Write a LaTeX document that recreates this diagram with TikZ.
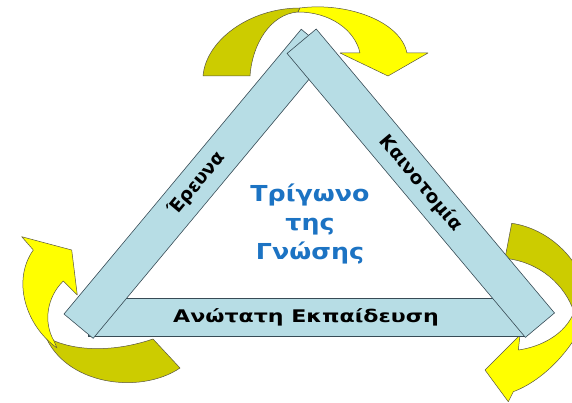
\documentclass[tikz,border=0pt]{standalone}
\usepackage{fontspec}
\setmainfont{DejaVu Sans}
\usepackage{graphicx}

\definecolor{barfill}{RGB}{183,221,229}
\definecolor{barline}{RGB}{55,75,85}
\definecolor{arrowlight}{RGB}{255,255,0}
\definecolor{arrowdark}{RGB}{204,204,0}
\definecolor{titleblue}{RGB}{28,115,195}

\begin{document}
\begin{tikzpicture}[x=1pt,y=-1pt,
  bar/.style={draw=barline,line width=0.6pt,fill=barfill,inner sep=0pt,
    minimum height=38pt,font=\bfseries\fontsize{17.4}{20}\selectfont},
  lightpart/.style={draw=black!75!yellow,line width=0.5pt,fill=arrowlight,line join=round},
  darkpart/.style={draw=black!75!yellow,line width=0.5pt,fill=arrowdark,line join=round}]
\useasboundingbox (0,0) rectangle (572,403);
\clip (0,0) rectangle (572,403);

% top arrow
\draw[darkpart] (203,76) .. controls (206,40) and (250,8) .. (300,8)
  -- (298,12) .. controls (270,14) and (252,45) .. (250,76) -- cycle;
\draw[lightpart] (300,8) .. controls (345,2) and (400,20) .. (407,53)
  -- (428,53) -- (388,76) -- (340,53) -- (360,53)
  .. controls (355,30) and (330,12) .. (298,12) -- cycle;

% right arrow
\draw[darkpart] (511.7,223.3) .. controls (545,228) and (580,255) .. (590,300)
  -- (574,312) .. controls (565,285) and (540,262) .. (505,258.3) -- cycle;
\draw[lightpart] (590,300) .. controls (585,335) and (550,378) .. (513.3,391.7)
  -- (508.3,401.7) -- (485,370) -- (520,335) -- (518.3,350)
  .. controls (540,347) and (565,335) .. (574,312) -- cycle;

% left arrow
\draw[darkpart] (153,339) .. controls (115,352) and (75,352) .. (48,338)
  -- (45,335) .. controls (65,385) and (140,395) .. (180,368) -- cycle;
\draw[lightpart] (21.7,236.7) -- (71.7,250) -- (77.3,295) -- (63.3,281)
  .. controls (47,297) and (43,322) .. (54,341) -- (57,348)
  .. controls (25,325) and (12,280) .. (33.3,250) -- cycle;

% bars
\node[bar,minimum width=436pt] (education) at (306,317.5)
  {\scalebox{1.27}[1]{Ανώτατη Εκπαίδευση}};
\node[bar,minimum width=370.7pt,rotate=50.2,font=\bfseries\fontsize{18.5}{20}\selectfont]
  (research) at (197.2,183.8) {Έρευνα};
\node[bar,minimum width=370.7pt,rotate=-50,font=\bfseries\fontsize{18.5}{20}\selectfont]
  (innovation) at (420.8,183.2) {Καινοτομία};

% title
\node[align=center,text=titleblue,font=\bfseries\fontsize{22}{28.7}\selectfont]
  (title) at (310,224) {\scalebox{1.15}[1]{Τρίγωνο}\\\scalebox{1.15}[1]{της}\\\scalebox{1.15}[1]{Γνώσης}};
\end{tikzpicture}
\end{document}
